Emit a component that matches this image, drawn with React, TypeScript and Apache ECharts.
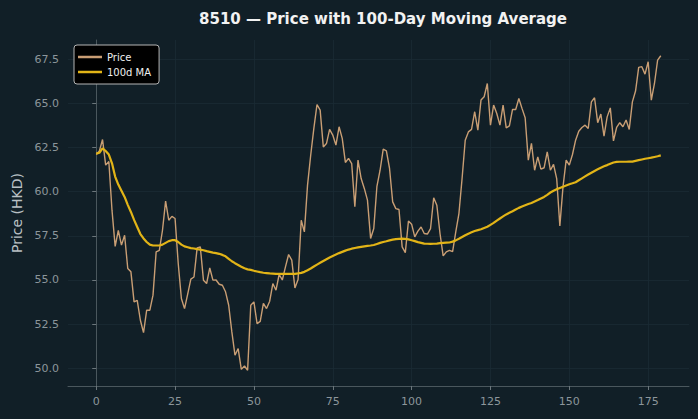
import React, { useEffect, useRef } from "react";
import * as echarts from "echarts";

const titleText = "8510 — Price with 100-Day Moving Average";
const yAxisName = "Price (HKD)";
const seriesNames = ["Price", "100d MA"];

const priceValues = [
  62.1, 62.3, 62.95, 61.5, 61.7, 58.95, 56.9, 57.8, 56.97, 57.53,
  55.65, 55.46, 53.76, 53.85, 52.72, 52.02, 53.29, 53.29, 54.14, 56.59,
  56.68, 57.8, 59.46, 58.38, 58.6, 58.48, 55.93, 53.95, 53.38, 54.2,
  55.05, 55.17, 56.82, 56.87, 54.99, 54.8, 55.68, 54.99, 55.0, 54.76,
  54.7, 54.33, 53.57, 52.06, 50.74, 51.12, 49.94, 50.13, 49.89, 53.57,
  53.76, 52.53, 52.66, 53.67, 53.38, 53.8, 54.8, 54.42, 55.31, 55.0,
  55.74, 56.44, 56.12, 54.55, 55.02, 58.38, 57.72, 60.37, 62.06, 63.58,
  64.93, 64.61, 62.53, 62.72, 63.52, 63.2, 62.63, 63.67, 63.01, 61.65,
  61.88, 61.59, 59.14, 61.78, 60.74, 60.18, 59.52, 57.35, 57.91, 60.3,
  61.21, 62.4, 62.31, 61.31, 59.42, 59.04, 58.99, 56.87, 56.55, 58.34,
  58.16, 57.44, 57.76, 58.0, 57.63, 57.6, 57.91, 59.65, 59.23, 57.63,
  56.36, 56.59, 56.68, 56.6, 57.72, 58.76, 60.74, 62.91, 63.38, 63.52,
  64.52, 63.48, 65.18, 65.37, 66.12, 63.76, 64.9, 64.42, 63.76, 64.9,
  63.61, 63.72, 64.65, 64.65, 65.27, 64.71, 64.18, 61.78, 62.73, 61.21,
  61.97, 61.27, 61.35, 62.25, 61.21, 61.54, 60.74, 58.06, 60.27, 61.78,
  61.5, 62.1, 62.91, 63.42, 63.63, 63.76, 63.57, 65.08, 65.31, 63.9,
  64.39, 63.14, 64.23, 64.74, 62.87, 63.63, 63.9, 63.67, 64.05, 63.52,
  65.08, 65.69, 67.03, 67.07, 66.65, 67.35, 65.18, 66.12, 67.44, 67.69,
];

const maValues = [
  62.15, 62.2, 62.45, 62.3, 62.1, 61.6, 60.85, 60.4, 60.05, 59.7,
  59.25, 58.85, 58.4, 58.0, 57.6, 57.35, 57.15, 57.0, 56.95, 56.95,
  56.95, 57.0, 57.1, 57.2, 57.25, 57.25, 57.15, 57.0, 56.9, 56.85,
  56.8, 56.78, 56.75, 56.72, 56.68, 56.63, 56.59, 56.55, 56.52, 56.48,
  56.42, 56.34, 56.2, 56.06, 55.95, 55.85, 55.75, 55.66, 55.6, 55.57,
  55.52, 55.48, 55.44, 55.41, 55.39, 55.37, 55.36, 55.35, 55.34, 55.34,
  55.34, 55.34, 55.34, 55.35, 55.37, 55.4, 55.46, 55.55, 55.65, 55.76,
  55.87, 55.97, 56.07, 56.17, 56.27, 56.36, 56.44, 56.52, 56.59, 56.66,
  56.72, 56.77, 56.81, 56.84, 56.87, 56.9, 56.93, 56.95, 56.98, 57.04,
  57.1, 57.15, 57.19, 57.24, 57.28, 57.31, 57.33, 57.34, 57.33, 57.3,
  57.25, 57.2, 57.14, 57.1, 57.06, 57.05, 57.04, 57.05, 57.06, 57.08,
  57.1, 57.11, 57.12, 57.17, 57.24, 57.33, 57.43, 57.53, 57.62, 57.7,
  57.77, 57.82, 57.87, 57.94, 58.01, 58.12, 58.23, 58.36, 58.48, 58.6,
  58.71, 58.8, 58.89, 58.99, 59.08, 59.16, 59.23, 59.3, 59.36, 59.44,
  59.52, 59.61, 59.7, 59.82, 59.95, 60.05, 60.14, 60.21, 60.28, 60.35,
  60.42, 60.47, 60.53, 60.64, 60.75, 60.86, 60.97, 61.07, 61.17, 61.26,
  61.35, 61.43, 61.5, 61.58, 61.65, 61.68, 61.69, 61.69, 61.69, 61.7,
  61.7, 61.74, 61.78, 61.82, 61.86, 61.89, 61.92, 61.96, 62.0, 62.05,
];

const xTicks = [0, 25, 50, 75, 100, 125, 150, 175];
const yTicks = [50.0, 52.5, 55.0, 57.5, 60.0, 62.5, 65.0, 67.5];

const BG = "#111f27";
const FONT = "DejaVu Sans";
const PRICE_COLOR = "#c99e74";
const MA_COLOR = "#e2b417";

export default function App() {
  const ref = useRef<HTMLDivElement>(null);

  useEffect(() => {
    if (!ref.current) return;
    document.body.style.margin = "0";
    document.body.style.background = BG;
    const chart = echarts.init(ref.current, undefined, { renderer: "svg" });

    const priceData = priceValues.map((v, i) => [i, v]);
    const maData = maValues.map((v, i) => [i, v]);
    const n = priceValues.length;
    const xPad = (n - 1) * 0.05;
    const yMinData = Math.min(...priceValues, ...maValues);
    const yMaxData = Math.max(...priceValues, ...maValues);
    const yPad = (yMaxData - yMinData) * 0.05;

    const gridStyle = { color: "#1b2b33", width: 0.8, type: "solid" as const };
    const gridLines = [
      ...xTicks.map((x) => ({ xAxis: x, lineStyle: gridStyle })),
      ...yTicks.map((y) => ({ yAxis: y, lineStyle: gridStyle })),
    ];

    chart.setOption({
      animation: false,
      backgroundColor: BG,
      textStyle: { fontFamily: FONT },
      title: {
        text: titleText,
        left: 378,
        top: 6,
        textAlign: "center",
        textStyle: { color: "#f2f2f2", fontSize: 15, fontWeight: "bold", fontFamily: FONT },
      },
      legend: {
        orient: "vertical",
        left: 74,
        top: 45,
        padding: [6, 8, 6, 4],
        itemGap: 3,
        itemWidth: 24,
        itemHeight: 2.5,
        icon: "rect",
        backgroundColor: "#000000",
        borderColor: "#b5b5b5",
        borderWidth: 1,
        borderRadius: 3,
        textStyle: { color: "#f0f0f0", fontSize: 10, fontFamily: FONT, lineHeight: 12 },
        data: seriesNames,
      },
      grid: { left: 68, right: 9, top: 40, bottom: 33, containLabel: false },
      xAxis: {
        type: "value",
        min: -xPad,
        max: n - 1 + xPad,
        axisLine: { show: true, lineStyle: { color: "#4a575d", width: 1 } },
        axisTick: { show: true, customValues: xTicks, length: 4, lineStyle: { color: "#6b767b" } },
        axisLabel: {
          customValues: xTicks,
          color: "#8c969b",
          fontSize: 11,
          margin: 10,
          fontFamily: FONT,
          formatter: (v: number) => String(v),
        },
        splitLine: { show: false },
      },
      yAxis: {
        type: "value",
        min: yMinData - yPad,
        max: yMaxData + yPad,
        name: yAxisName,
        nameLocation: "middle",
        nameGap: 44,
        nameTextStyle: { color: "#b9c0c4", fontSize: 14, fontFamily: FONT },
        axisLine: { show: true, lineStyle: { color: "#4a575d", width: 1 } },
        axisTick: { show: true, customValues: yTicks, length: 4, lineStyle: { color: "#6b767b" } },
        axisLabel: {
          customValues: yTicks,
          color: "#8c969b",
          fontSize: 11,
          margin: 9,
          fontFamily: FONT,
          formatter: (v: number) => v.toFixed(1),
        },
        splitLine: { show: false },
      },
      series: [
        {
          name: seriesNames[0],
          type: "line",
          data: priceData,
          showSymbol: false,
          symbol: "none",
          lineStyle: { color: PRICE_COLOR, width: 1.4 },
          itemStyle: { color: PRICE_COLOR },
          z: 2,
          markLine: {
            silent: true,
            symbol: "none",
            label: { show: false },
            data: gridLines,
            z: 0,
          },
        },
        {
          name: seriesNames[1],
          type: "line",
          data: maData,
          showSymbol: false,
          symbol: "none",
          lineStyle: { color: MA_COLOR, width: 2.2 },
          itemStyle: { color: MA_COLOR },
          z: 3,
        },
      ],
    });

    return () => chart.dispose();
  }, []);

  return (
    <div
      ref={ref}
      style={{ position: "fixed", left: 0, top: 0, width: 698, height: 419 }}
    />
  );
}
